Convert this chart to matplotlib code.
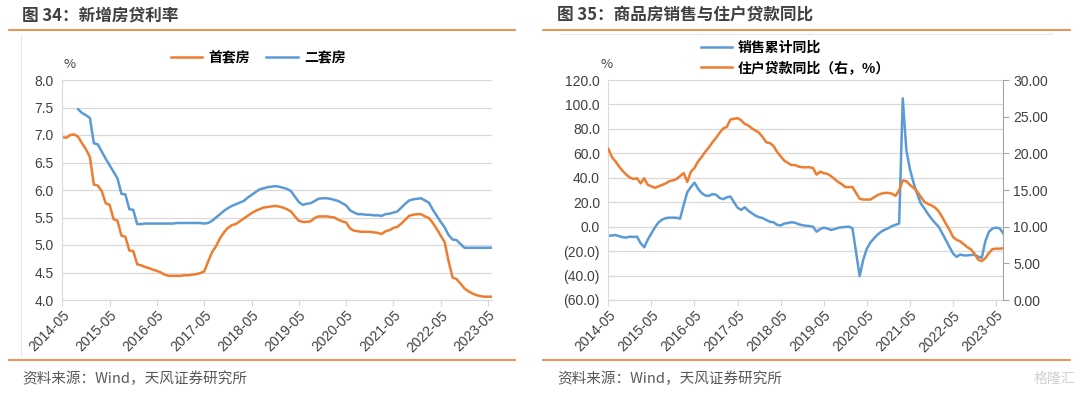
import matplotlib.pyplot as plt
from matplotlib.lines import Line2D
from matplotlib.ticker import FuncFormatter, FixedLocator

plt.rcParams['font.family'] = ['Noto Sans CJK SC', 'DejaVu Sans']

ORANGE = "#ED7D31"
BLUE = "#5B9BD5"
GRID = "#D9D9D9"
TEXT = "#404040"

# x tick labels, one every 12 months starting 2014-05
tick_labels = ["2014-05", "2015-05", "2016-05", "2017-05", "2018-05",
               "2019-05", "2020-05", "2021-05", "2022-05", "2023-05"]

# ---- chart 34: mortgage rates, monthly from 2014-05 ----
first_home = [
    6.96, 6.95, 7.00, 7.01, 6.97, 6.85, 6.74, 6.60, 6.10, 6.08,
    5.98, 5.76, 5.73, 5.47, 5.44, 5.17, 5.15, 4.90, 4.89, 4.65,
    4.63, 4.60, 4.58, 4.55, 4.53, 4.50, 4.46, 4.44, 4.44, 4.44,
    4.44, 4.45, 4.45, 4.46, 4.47, 4.49, 4.52, 4.70, 4.87, 4.98,
    5.12, 5.23, 5.31, 5.36, 5.38, 5.43, 5.48, 5.53, 5.58, 5.62,
    5.65, 5.68, 5.69, 5.70, 5.71, 5.70, 5.68, 5.65, 5.61, 5.52,
    5.44, 5.42, 5.42, 5.43, 5.49, 5.52, 5.52, 5.52, 5.51, 5.50,
    5.46, 5.43, 5.41, 5.30, 5.26, 5.25, 5.24, 5.24, 5.24, 5.23,
    5.22, 5.20, 5.25, 5.27, 5.31, 5.33, 5.39, 5.46, 5.53, 5.55,
    5.56, 5.56, 5.52, 5.49, 5.40, 5.29, 5.17, 5.05, 4.70, 4.41,
    4.38, 4.30, 4.21, 4.16, 4.12, 4.09, 4.07, 4.06, 4.06, 4.06,
]
# second home starts in 2014-09
second_home_start = 4
second_home = [
    7.47, 7.40, 7.36, 7.31, 6.85, 6.83, 6.70, 6.57, 6.45, 6.33,
    6.21, 5.93, 5.92, 5.65, 5.64, 5.38, 5.38, 5.39, 5.39, 5.39,
    5.39, 5.39, 5.39, 5.39, 5.39, 5.40, 5.40, 5.40, 5.40, 5.40,
    5.40, 5.40, 5.39, 5.40, 5.44, 5.50, 5.56, 5.62, 5.67, 5.71,
    5.74, 5.77, 5.80, 5.86, 5.91, 5.96, 6.01, 6.03, 6.05, 6.06,
    6.07, 6.06, 6.04, 6.02, 5.98, 5.88, 5.78, 5.73, 5.75, 5.76,
    5.80, 5.84, 5.85, 5.85, 5.84, 5.82, 5.80, 5.76, 5.72, 5.63,
    5.59, 5.56, 5.56, 5.55, 5.55, 5.54, 5.54, 5.53, 5.56, 5.57,
    5.59, 5.61, 5.68, 5.75, 5.81, 5.83, 5.84, 5.85, 5.81, 5.77,
    5.64, 5.53, 5.42, 5.32, 5.18, 5.10, 5.09, 5.02, 4.95, 4.95,
    4.95, 4.95, 4.95, 4.95, 4.95, 4.95,
]

# ---- chart 35: sales yoy (left) and household loan yoy (right), monthly from 2014-05 ----
sales_yoy = [
    -7.4, -7.2, -6.8, -7.8, -8.6, -8.9, -8.2, -8.4, -8.2, -13.5,
    -16.9, -10.5, -5.5, -0.5, 3.5, 5.8, 7.0, 7.4, 7.4, 7.3,
    6.5, 18.0, 28.2, 32.5, 36.0, 31.0, 27.5, 25.5, 25.2, 26.6,
    26.2, 23.5, 22.5, 24.0, 24.7, 20.0, 15.5, 13.7, 15.9, 13.0,
    11.0, 9.0, 7.7, 7.0, 5.5, 4.0, 3.6, 1.5, 1.0, 2.5,
    3.0, 3.6, 3.2, 2.0, 1.2, 0.8, 0.5, 0.0, -4.1, -2.0,
    -0.8, -1.5, -2.7, -2.0, -1.0, -0.5, -0.2, 0.0, -1.4, -21.0,
    -40.4, -27.0, -18.0, -13.0, -9.5, -6.5, -4.1, -2.5, -1.2, 0.5,
    1.5, 2.6, 105.0, 62.7, 46.9, 36.0, 27.0, 19.1, 15.0, 10.5,
    6.5, 3.0, 0.0, -5.5, -11.0, -16.5, -22.0, -24.7, -22.8, -23.5,
    -23.5, -23.2, -23.0, -24.5, -25.5, -12.0, -4.1, -1.5, -0.8, -1.4,
    -5.5,
]
loan_yoy = [
    20.6, 19.5, 18.9, 18.2, 17.6, 17.1, 16.7, 16.5, 16.6, 15.9,
    16.6, 15.7, 15.5, 15.3, 15.5, 15.7, 15.9, 16.2, 16.3, 16.5,
    16.9, 17.3, 16.1, 17.5, 18.0, 18.9, 19.5, 20.2, 20.8, 21.5,
    22.1, 22.8, 23.4, 23.6, 24.6, 24.7, 24.8, 24.5, 24.0, 23.8,
    23.4, 23.1, 22.8, 22.2, 21.5, 21.4, 21.0, 20.2, 19.6, 19.0,
    18.7, 18.4, 18.4, 18.2, 18.1, 18.1, 18.1, 18.0, 17.1, 17.5,
    17.3, 17.2, 16.9, 16.5, 16.1, 15.8, 15.4, 15.4, 15.4, 14.6,
    13.8, 13.7, 13.7, 13.7, 14.0, 14.3, 14.5, 14.6, 14.6, 14.5,
    14.2, 15.0, 16.3, 16.2, 15.7, 15.3, 14.8, 14.1, 13.4, 13.1,
    12.9, 12.6, 12.1, 11.3, 10.4, 9.6, 8.6, 8.2, 8.0, 7.6,
    7.2, 6.9, 6.3, 5.5, 5.3, 5.7, 6.4, 6.95, 7.0, 7.0,
    7.05,
]

W, H = 1080, 393
fig = plt.figure(figsize=(W / 100, H / 100), dpi=100)
NUM_FONT = ["Liberation Sans", "DejaVu Sans"]


def fx(px):
    return px / W


def fy(py):
    return 1 - py / H


def style_axes(ax):
    for s in ["top", "right"]:
        ax.spines[s].set_visible(False)
    ax.spines["left"].set_color(GRID)
    ax.spines["bottom"].set_color(GRID)
    ax.grid(axis="y", color=GRID, linewidth=0.9)
    ax.set_axisbelow(True)
    ax.tick_params(axis="y", length=0, labelsize=10, colors=TEXT, pad=6)
    ax.tick_params(axis="x", length=4, color=GRID, labelsize=10, colors=TEXT, pad=2)
    ax.xaxis.set_major_locator(FixedLocator([12 * i for i in range(len(tick_labels))]))
    ax.set_xticklabels(tick_labels, rotation=45, ha="right", rotation_mode="anchor",
                       family=NUM_FONT)
    for lab in ax.get_yticklabels():
        lab.set_family(NUM_FONT)


# frame decorations
for x0, x1 in [(9, 515), (543, 1070)]:
    fig.add_artist(Line2D([fx(x0), fx(x1)], [fy(30), fy(30)], color=ORANGE, lw=1.2))
    fig.add_artist(Line2D([fx(x0), fx(x1)], [fy(360), fy(360)], color=ORANGE, lw=1.2))
fig.add_artist(Line2D([fx(21), fx(21)], [fy(35), fy(355)], color="#E6E6E6", lw=0.8))
fig.add_artist(Line2D([fx(560), fx(1052)], [fy(34), fy(34)], color="#E6E6E6", lw=0.8))

fig.text(fx(22), fy(15), "图 34：新增房贷利率", fontsize=12, fontweight="bold",
         color=TEXT, va="center", ha="left")
fig.text(fx(557), fy(15), "图 35：商品房销售与住户贷款同比", fontsize=12, fontweight="bold",
         color=TEXT, va="center", ha="left")
fig.text(fx(22), fy(379), "资料来源：Wind，天风证券研究所", fontsize=10.5,
         color="#595959", va="center", ha="left")
fig.text(fx(557), fy(379), "资料来源：Wind，天风证券研究所", fontsize=10.5,
         color="#595959", va="center", ha="left")
fig.text(fx(1075), fy(379), "格隆汇", fontsize=10, color="#D0D0D0",
         va="center", ha="right")

# ---- left chart ----
ax1 = fig.add_axes([fx(62.3), fy(300), fx(492 - 62.3), fy(80) - fy(300)])
m1 = list(range(len(first_home)))
m2 = list(range(second_home_start, second_home_start + len(second_home)))
ax1.plot(m1, first_home, color=ORANGE, lw=1.8, label="首套房")
ax1.plot(m2, second_home, color=BLUE, lw=1.8, label="二套房")
ax1.set_ylim(4.0, 8.0)
ax1.set_yticks([4.0, 4.5, 5.0, 5.5, 6.0, 6.5, 7.0, 7.5, 8.0])
ax1.yaxis.set_major_formatter(FuncFormatter(lambda v, p: f"{v:.1f}"))
ax1.set_xlim(0, len(first_home) - 1)
style_axes(ax1)
ax1.text(fx(70), fy(64), "%", transform=fig.transFigure, fontsize=9.5,
         color=TEXT, ha="center", va="center")
ax1.legend(loc="center", bbox_to_anchor=(fx(258), fy(58)),
           bbox_transform=fig.transFigure, ncol=2, frameon=False,
           handlelength=2.3, columnspacing=1.2, handletextpad=0.4,
           prop={"weight": "bold", "size": 10})

# ---- right chart ----
ax3 = fig.add_axes([fx(608.3), fy(300), fx(1003.3 - 608.3), fy(80) - fy(300)])
ax4 = ax3.twinx()
ms = list(range(len(sales_yoy)))
ml = list(range(len(loan_yoy)))
l1, = ax3.plot(ms, sales_yoy, color=BLUE, lw=1.8, label="销售累计同比")
l2, = ax4.plot(ml, loan_yoy, color=ORANGE, lw=1.8, label="住户贷款同比（右，%）")
ax3.set_ylim(-60, 120)
ax3.set_yticks(list(range(-60, 121, 20)))
ax3.yaxis.set_major_formatter(
    FuncFormatter(lambda v, p: f"({abs(v):.1f})" if v < 0 else f"{v:.1f}"))
ax3.set_xlim(0, len(sales_yoy) - 1)
style_axes(ax3)
ax4.set_ylim(0, 30)
ax4.set_yticks([0, 5, 10, 15, 20, 25, 30])
ax4.yaxis.set_major_formatter(FuncFormatter(lambda v, p: f"{v:.2f}"))
for s in ["top", "left", "bottom"]:
    ax4.spines[s].set_visible(False)
ax4.spines["right"].set_color("#A6A6A6")
ax4.tick_params(axis="y", length=4, color="#A6A6A6", labelsize=10, colors=TEXT, pad=3)
for lab in ax4.get_yticklabels():
    lab.set_family(NUM_FONT)
ax3.text(fx(607), fy(64), "%", transform=fig.transFigure, fontsize=9.5,
         color=TEXT, ha="center", va="center")
ax3.legend(handles=[l1, l2], loc="upper left", bbox_to_anchor=(fx(688), fy(28)),
           bbox_transform=fig.transFigure, ncol=1, frameon=False,
           handlelength=2.3, handletextpad=0.4, labelspacing=0.45,
           prop={"weight": "bold", "size": 10})

fig.savefig("out.png", dpi=100)
